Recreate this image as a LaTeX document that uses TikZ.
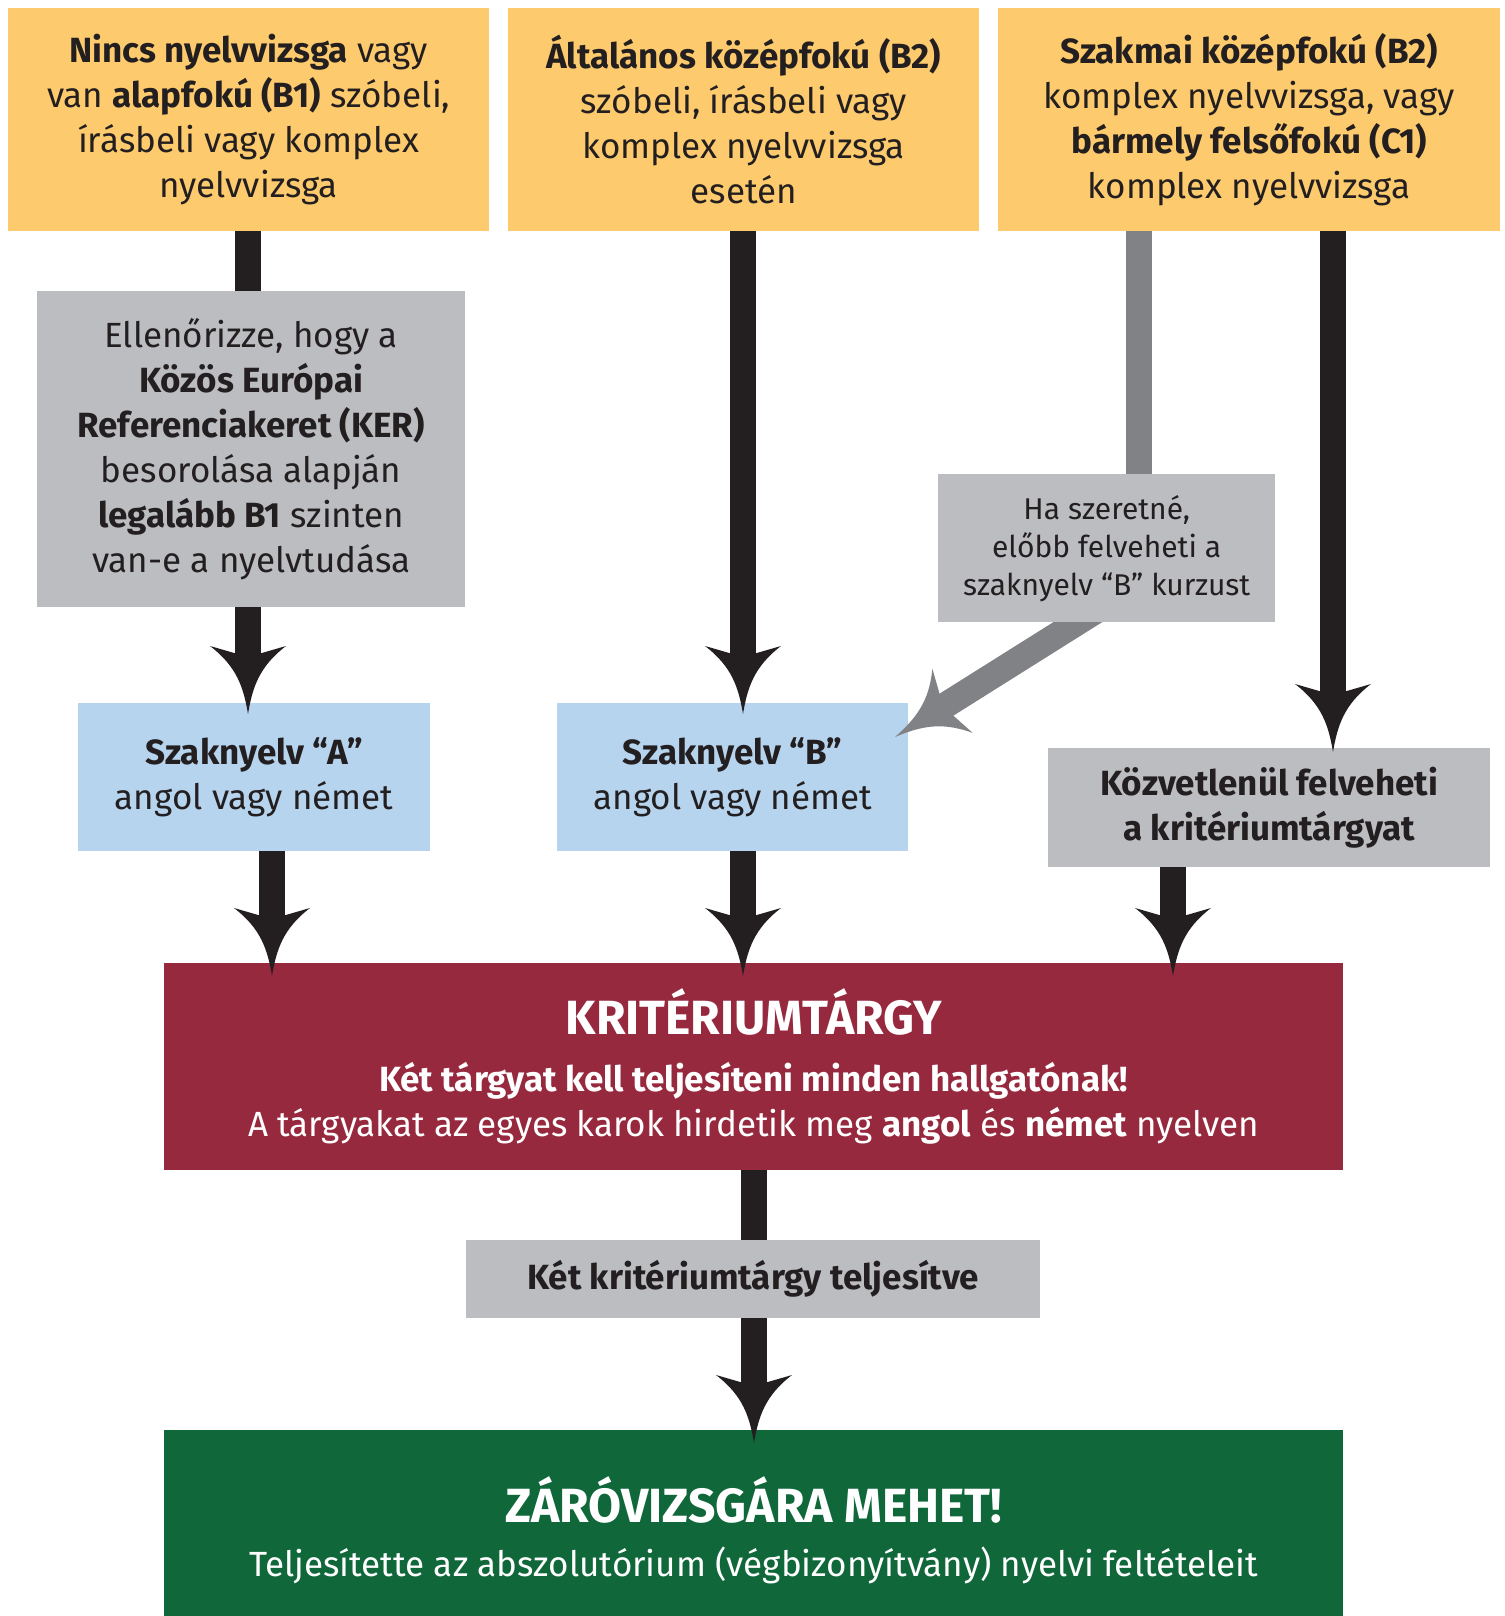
\documentclass[tikz,border=0pt]{standalone}
\usepackage{fontspec}
\setmainfont{Fira Sans}
\usetikzlibrary{arrows.meta,calc}
\definecolor{yel}{HTML}{FDCB6E}
\definecolor{gbox}{HTML}{BCBDC0}
\definecolor{lblue}{HTML}{B6D4EE}
\definecolor{kred}{HTML}{97293F}
\definecolor{kgreen}{HTML}{10673A}
\definecolor{ink}{HTML}{231F20}
\definecolor{garrow}{HTML}{808285}
\pgfdeclarearrow{
  name = Barb,
  parameters = {\the\pgfarrowlength,\the\pgfarrowwidth,\the\pgfarrowinset},
  setup code = {
    \pgfarrowssettipend{\pgfarrowlength}
    \pgfarrowssetbackend{0pt}
    \pgfarrowssetlineend{0.35\pgfarrowlength}
    \pgfarrowssetvisualbackend{\pgfarrowinset}
    \pgfarrowssavethe\pgfarrowlength
    \pgfarrowssavethe\pgfarrowwidth
    \pgfarrowssavethe\pgfarrowinset
  },
  drawing code = {
    \pgfpathmoveto{\pgfpoint{\pgfarrowlength}{0pt}}
    \pgfpathcurveto{\pgfpoint{0.6\pgfarrowlength}{0.06\pgfarrowwidth}}{\pgfpoint{0.3\pgfarrowlength}{0.15\pgfarrowwidth}}{\pgfpoint{0pt}{0.5\pgfarrowwidth}}
    \pgfpathlineto{\pgfpoint{\pgfarrowinset}{0pt}}
    \pgfpathlineto{\pgfpoint{0pt}{-0.5\pgfarrowwidth}}
    \pgfpathcurveto{\pgfpoint{0.3\pgfarrowlength}{-0.15\pgfarrowwidth}}{\pgfpoint{0.6\pgfarrowlength}{-0.06\pgfarrowwidth}}{\pgfpoint{\pgfarrowlength}{0pt}}
    \pgfpathclose
    \pgfusepathqfill
  },
  defaults = {length = 68pt, width = 76pt, inset = 11pt}
}
\tikzset{
  box/.style={anchor=north west, inner sep=0pt, align=center, text=ink,
    font=\fontsize{35}{45}\selectfont},
  bar/.style={line width=26pt, color=ink},
  arr/.style={line width=26pt, color=ink, -{Barb}},
  gbar/.style={line width=26pt, color=garrow},
  garr/.style={line width=26pt, color=garrow, -{Barb}},
}
\begin{document}
\begin{tikzpicture}[x=1pt,y=-1pt]
\useasboundingbox (0,0) rectangle (1504,1616);
% boxes
\node[box, fill=yel, minimum width=481pt, minimum height=223pt] (t1) at (8,8)
  {{\bfseries Nincs nyelvvizsga} vagy\\van {\bfseries alapfokú (B1)} szóbeli,\\írásbeli vagy komplex\\nyelvvizsga};
\node[box, fill=yel, minimum width=471pt, minimum height=223pt] (t2) at (508,8)
  {{\bfseries Általános középfokú (B2)}\\szóbeli, írásbeli vagy\\komplex nyelvvizsga\\esetén};
\node[box, fill=yel, minimum width=502pt, minimum height=223pt] (t3) at (998,8)
  {{\bfseries Szakmai középfokú (B2)}\\komplex nyelvvizsga, vagy\\{\bfseries bármely felsőfokú (C1)}\\komplex nyelvvizsga};
\node[box, fill=gbox, minimum width=428pt, minimum height=316pt] (ker) at (37,291)
  {Ellenőrizze, hogy a\\{\bfseries Közös Európai}\\{\bfseries Referenciakeret (KER)}\\besorolása alapján\\{\bfseries legalább B1} szinten\\van-e a nyelvtudása};
\node[box, fill=gbox, minimum width=337pt, minimum height=148pt,
  font=\fontsize{30}{38}\selectfont] (ha) at (938,474)
  {Ha szeretné,\\előbb felveheti a\\szaknyelv “B” kurzust};
\node[box, fill=lblue, minimum width=352pt, minimum height=148pt] (A) at (78,703)
  {{\bfseries Szaknyelv “A”}\\angol vagy német};
\node[box, fill=lblue, minimum width=351pt, minimum height=148pt] (B) at (557,703)
  {{\bfseries Szaknyelv “B”}\\angol vagy német};
\node[box, fill=gbox, minimum width=442pt, minimum height=119pt] (kz) at (1048,748)
  {{\bfseries Közvetlenül felveheti}\\{\bfseries a kritériumtárgyat}};
\node[box, fill=kred, text=white, minimum width=1179pt, minimum height=207pt] (krit) at (164,963)
  {{\fontsize{48}{52}\selectfont\bfseries KRITÉRIUMTÁRGY}\\[12pt]{\bfseries Két tárgyat kell teljesíteni minden hallgatónak!}\\A tárgyakat az egyes karok hirdetik meg {\bfseries angol} és {\bfseries német} nyelven};
\node[box, fill=gbox, minimum width=574pt, minimum height=78pt] (ket) at (466,1240)
  {{\bfseries Két kritériumtárgy teljesítve}};
\node[box, fill=kgreen, text=white, minimum width=1179pt, minimum height=200pt] (zaro) at (164,1430)
  {{\fontsize{48}{52}\selectfont\bfseries ZÁRÓVIZSGÁRA MEHET!}\\[9pt]Teljesítette az abszolutórium (végbizonyítvány) nyelvi feltételeit};
% connector columns
\coordinate (c1) at (248,0);
\coordinate (c2) at (743,0);
\coordinate (c3) at (1139,0);
\coordinate (c4) at (1333,0);
\coordinate (c5) at (272,0);
\coordinate (c6) at (1173,0);
\coordinate (c7) at (754,0);
\coordinate (gs) at (1113,600);
\coordinate (gt) at (895,737);
% connectors
\draw[bar] (t1.south -| c1) -- (ker.north -| c1);
\draw[arr, shorten >=-11pt] (ker.south -| c1) -- (A.north -| c1);
\draw[arr, shorten >=-11pt] (t2.south -| c2) -- (B.north -| c2);
\draw[gbar] (t3.south -| c3) -- (ha.north -| c3);
\draw[arr, shorten >=-4pt] (t3.south -| c4) -- (kz.north -| c4);
\begin{scope}
  \clip (ha.south east) rectangle ($(B.south west)+(0,80)$);
  \draw[garr] (gs) -- (gt);
\end{scope}
\draw[arr, shorten >=-13pt] (A.south -| c5) -- (krit.north -| c5);
\draw[arr, shorten >=-13pt] (B.south -| c2) -- (krit.north -| c2);
\draw[arr, shorten >=-13pt] (kz.south -| c6) -- (krit.north -| c6);
\draw[bar] (krit.south -| c7) -- (ket.north -| c7);
\draw[arr, shorten >=-13pt] (ket.south -| c7) -- (zaro.north -| c7);
\end{tikzpicture}
\end{document}
